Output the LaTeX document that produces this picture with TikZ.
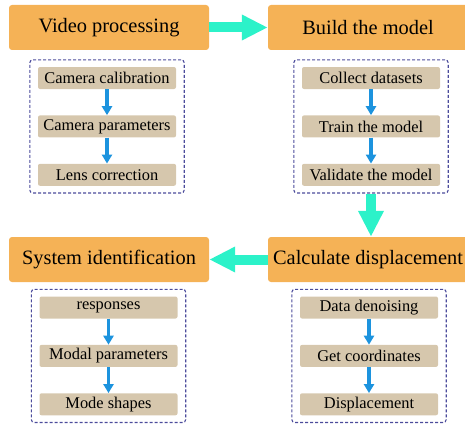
\documentclass[tikz,border=0pt]{standalone}
\usepackage{fontspec}
\setmainfont{Liberation Serif}
\usepackage{xcolor}
\usepackage{tikz}
\usetikzlibrary{arrows.meta}
\usetikzlibrary{positioning, fit}
\definecolor{stageorange}{HTML}{F5B256}
\definecolor{tasktan}{HTML}{D6C7AD}
\definecolor{groupblue}{HTML}{4B4B9B}
\definecolor{tealarrow}{HTML}{2CF2C9}
\definecolor{bluearrow}{HTML}{1C93DE}
\tikzstyle{stage} = [fill=stageorange,
	rounded corners=3pt,
	minimum width=200pt,
	minimum height=45pt,
	font=\fontsize{20.4}{24}\selectfont]
\tikzstyle{task} = [fill=tasktan,
	rounded corners=2pt,
	minimum width=138pt,
	minimum height=22pt,
	inner sep=1pt,
	font=\fontsize{16.4}{18}\selectfont]
\tikzstyle{group} = [draw=groupblue, line width=1.1pt,
	dash pattern=on 3pt off 2pt,
	rounded corners=3pt,
	inner xsep=8pt, inner ysep=7pt]
\tikzstyle{bigarrow} = [-{Triangle[width=24pt,length=26pt]}, line width=10pt, draw=tealarrow]
\tikzstyle{arrow} = [-{Triangle[width=10pt,length=9pt]}, line width=3.5pt, draw=bluearrow]

\begin{document}
\begin{tikzpicture}[x=1pt, y=-1pt]
	\useasboundingbox (0,0) rectangle (465,428);
	
	\node (video) [stage] at (109,27.5) {Video processing};
	\node (build) [stage] at (368,27.5) {Build the model};
	\node (calc) [stage] at (368,259.5) {Calculate displacement};
	\node (sysid) [stage] at (109,259.5) {System identification};
	
	\node (calib) [task] at (107,78) {Camera calibration};
	\node (camparam) [task, below=26pt of calib] {Camera parameters};
	\node (lens) [task, below=26pt of camparam] {Lens correction};
	\draw [arrow] (calib) -- (camparam);
	\draw [arrow] (camparam) -- (lens);
	\node (grpA) [group, fit=(calib)(lens)] {};
	
	\node (collect) [task] at (371,78) {Collect datasets};
	\node (train) [task, below=26pt of collect] {Train the model};
	\node (validate) [task, below=26pt of train] {Validate the model};
	\draw [arrow] (collect) -- (train);
	\draw [arrow] (train) -- (validate);
	\node (grpB) [group, fit=(collect)(validate)] {};
	
	\node (resp) [task] at (108.5,307.5) {responses};
	\node (modal) [task, below=26pt of resp] {Modal parameters};
	\node (shapes) [task, below=26pt of modal] {Mode shapes};
	\draw [arrow] (resp) -- (modal);
	\draw [arrow] (modal) -- (shapes);
	\node (grpC) [group, fit=(resp)(shapes)] {};
	
	\node (denoise) [task] at (369,307.5) {Data denoising};
	\node (coords) [task, below=26pt of denoise] {Get coordinates};
	\node (disp) [task, below=26pt of coords] {Displacement};
	\draw [arrow] (denoise) -- (coords);
	\draw [arrow] (coords) -- (disp);
	\node (grpD) [group, fit=(denoise)(disp)] {};
	
	% flow between the stages
	\draw [bigarrow] (video) -- (build);
	\draw [bigarrow] (grpB.south) -- (grpB.south |- calc.north);
	\draw [bigarrow] (calc) -- (sysid);
\end{tikzpicture}
\end{document}
